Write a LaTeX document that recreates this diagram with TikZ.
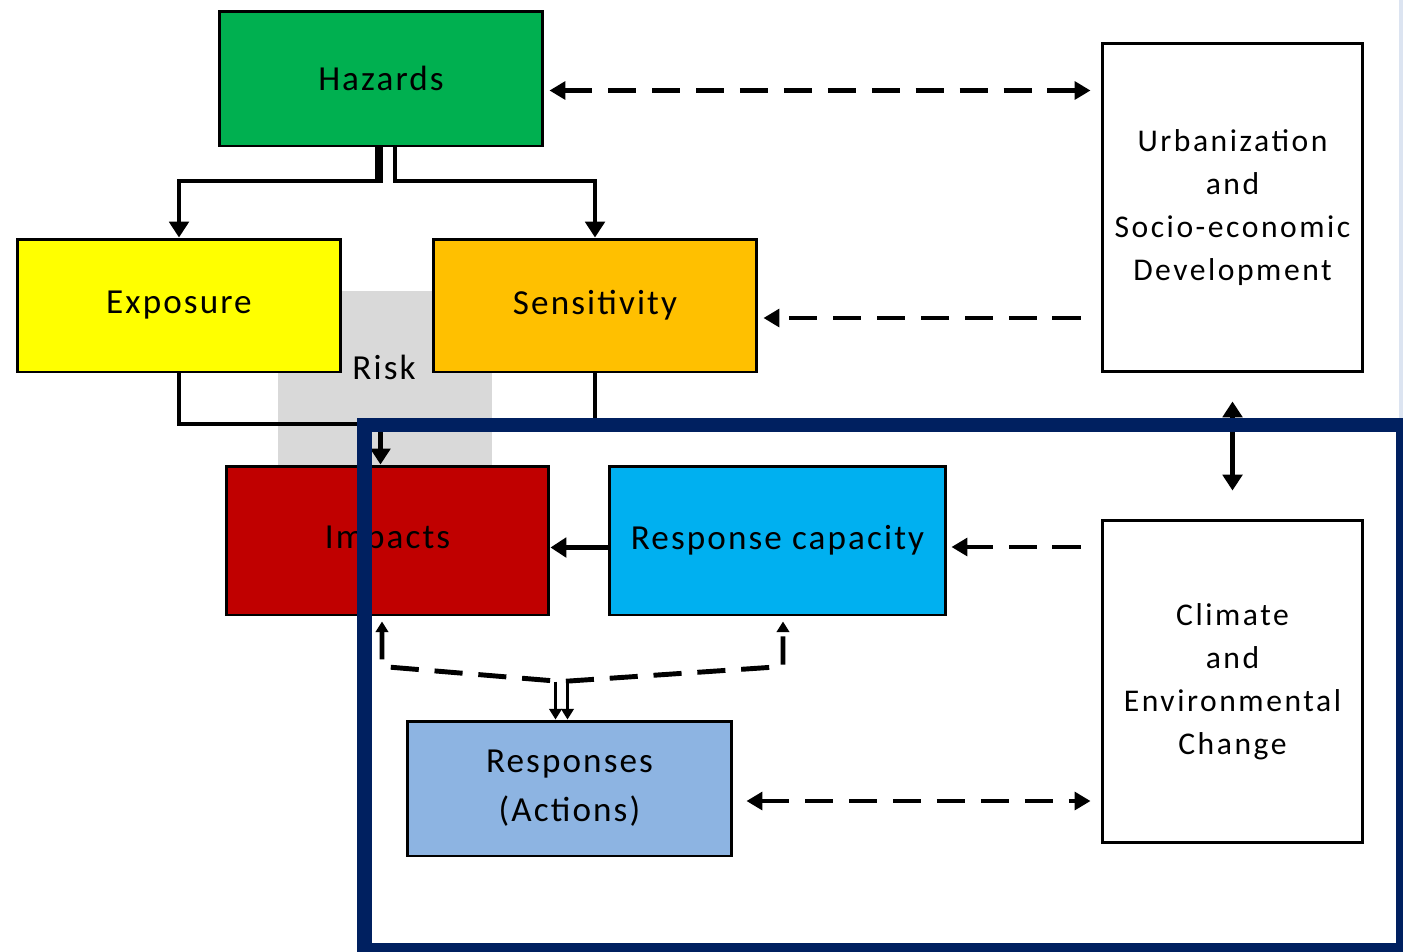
\documentclass[tikz,border=0pt]{standalone}
\usepackage{fontspec}
\setmainfont{Carlito}
\usetikzlibrary{arrows.meta,calc}

\definecolor{hzgreen}{HTML}{00B050}
\definecolor{exyellow}{HTML}{FFFF00}
\definecolor{seorange}{HTML}{FFC000}
\definecolor{imred}{HTML}{C00000}
\definecolor{rccyan}{HTML}{00B0F0}
\definecolor{rsblue}{HTML}{8DB4E2}
\definecolor{riskgray}{HTML}{D9D9D9}
\definecolor{framenavy}{HTML}{002060}
\definecolor{edgestrip}{HTML}{DCE4F1}

\newcommand\boxfont{\fontsize{20}{28}\selectfont\addfontfeatures{LetterSpace=6}}
\newcommand\sidefont{\fontsize{18}{24.5}\selectfont\addfontfeatures{LetterSpace=8}}

\begin{document}
\begin{tikzpicture}[x=0.02cm,y=-0.02cm,
  box/.style={draw=black, line width=1.7pt, inner sep=0pt, align=center,
              text=black, font=\boxfont},
  sidebox/.style={box, fill=white, font=\sidefont},
  conn/.style={line width=2.3pt, draw=black},
  thinconn/.style={line width=1.4pt, draw=black},
  dashl/.style={line width=2.8pt, draw=black, dash pattern=on 16pt off 9pt},
  tip/.tip={Triangle[length=9pt,width=11pt]},
  dtip/.tip={Triangle[length=9pt,width=10pt]},
  stip/.tip={Triangle[length=6pt,width=7pt]}]

\useasboundingbox (0,0) rectangle (1403,951);
\clip (0,0) rectangle (1403,951);

% shaded risk zone behind the boxes
\fill[riskgray] (278,291) rectangle (492,465);
\fill[edgestrip] (1399,0) rectangle (1403,418);

% boxes
\node[box, fill=hzgreen, minimum width=6.48cm, minimum height=2.70cm] (hz) at (381,78.5) {Hazards};
\node[box, fill=exyellow, minimum width=6.48cm, minimum height=2.66cm] (ex) at (179,305.5) {Exposure};
\node[box, fill=seorange, minimum width=6.48cm, minimum height=2.66cm] (se) at (595,305.5) {Sensitivity};
\node[box, fill=imred, minimum width=6.46cm, minimum height=2.98cm] (im) at (387.5,540.5) {Impacts};
\node[box, fill=rccyan, minimum width=6.74cm, minimum height=2.98cm] (rc) at (777.5,540.5) {Response capacity};
\node[box, fill=rsblue, minimum width=6.50cm, minimum height=2.70cm] (rs) at (569.5,788.5) {Responses\\(Actions)};
\node[sidebox, minimum width=5.22cm, minimum height=6.58cm] (ur) at (1232.5,207.5)
  {Urbanization\\and\\Socio-economic\\Development};
\node[sidebox, minimum width=5.22cm, minimum height=6.46cm] (cl) at (1232.5,681.5)
  {Climate\\and\\Environmental\\Change};
\node[font=\boxfont, text=black, inner sep=0pt] (risk) at (384,367) {Risk};

% hazards feed exposure and sensitivity
\draw[conn] (hz.south) -- ($(hz.south)+(0,36)$);
\draw[conn,-tip] ($(hz.south)+(-4,0)$) |- ($(ex.north)+(0,-57)$) -- (ex.north);
\draw[conn,-tip] ($(hz.south)+(14,0)$) |- ($(se.north)+(0,-57)$) -- (se.north);

% exposure and sensitivity combine into impacts
\coordinate (j) at ($(im.north)+(-7,-41)$);
\draw[conn] (ex.south) |- (j);
\draw[conn] (se.south) |- (j);
\draw[conn,-tip] (j) -- (j |- im.north);

% response capacity reduces impacts
\draw[conn,-tip] ($(rc.west)+(0,7)$) -- ($(im.east)+(0,7)$);

% dashed links to the drivers on the right
\draw[dashl,dtip-dtip] ($(hz.east)+(5,12)$) -- ($(hz.east -| ur.west)+(-10,12)$);
\draw[dashl,-dtip] ($(se.east -| ur.west)+(-20,12.5)$) -- ($(se.east)+(5,12.5)$);
\draw[dashl,-dtip] ($(rc.east -| cl.west)+(-20,6.5)$) -- ($(rc.east)+(4,6.5)$);
\draw[dashl,dtip-dtip] ($(rs.east)+(13,12.5)$) -- ($(rs.east -| cl.west)+(-10,12.5)$);

% urbanization and climate change interact
\draw[conn,tip-tip] ($(ur.south)+(0,28)$) -- ($(cl.north)+(0,-28)$);

% responses act on impacts and response capacity
\coordinate (ia) at ($(im.south)+(-5.5,5)$);
\coordinate (rb) at ($(rc.south)+(5.5,5)$);
\coordinate (mid) at ($(rs.north)+(-8,-38)$);
\draw[dashl,stip-stip] (ia) -- ($(ia)+(0,45)$) -- (mid) -- ($(rb)+(0,45)$) -- (rb);
\draw[thinconn,-stip] ($(mid)+(-6,0)$) -- ($(rs.north)+(-14,0)$);
\draw[thinconn,-stip] ($(mid)+(6,0)$) -- ($(rs.north)+(-2,0)$);

% frame around the response side
\draw[framenavy, line width=8.5pt] (364.5,425) rectangle (1403.5,950.5);
\end{tikzpicture}
\end{document}
